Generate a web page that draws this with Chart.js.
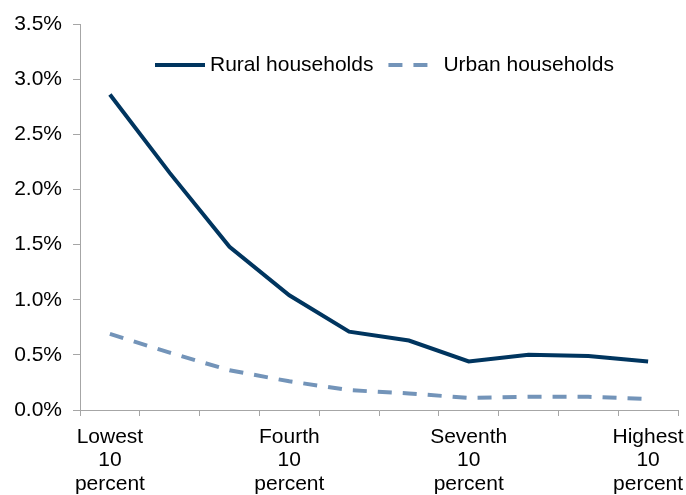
<!DOCTYPE html>
<html>
<head>
<meta charset="utf-8">
<script src="https://cdn.jsdelivr.net/npm/chart.js@4"></script>
<style>
  html, body { margin: 0; padding: 0; background: #fff; }
  #wrap { width: 686px; height: 495px; }
</style>
</head>
<body>
<div id="wrap"><canvas id="myChart" width="686" height="495"></canvas></div>
<script>
// income deciles along the x axis
const deciles = ["Lowest", "Second", "Third", "Fourth", "Fifth", "Sixth", "Seventh", "Eighth", "Ninth", "Highest"];
// only these deciles get a label under the axis
const labelledDeciles = ["Lowest", "Fourth", "Seventh", "Highest"];

// share in percent
const ruralValues = [2.86, 2.15, 1.48, 1.04, 0.71, 0.63, 0.44, 0.50, 0.49, 0.44];
const urbanValues = [0.69, 0.52, 0.36, 0.26, 0.18, 0.15, 0.11, 0.12, 0.12, 0.10];

const yTicks = [0, 0.5, 1.0, 1.5, 2.0, 2.5, 3.0, 3.5];

const axisGray = "#a6a6a6";
const fontFamily = "'Liberation Sans', Arial, sans-serif";

// legend drawn inside the plot area, near the top
const insideLegend = {
  id: "insideLegend",
  afterDraw(chart) {
    const ctx = chart.ctx;
    const y = 65;
    let x = 155;
    ctx.save();
    ctx.font = "21px " + fontFamily;
    ctx.textBaseline = "middle";
    ctx.textAlign = "left";
    chart.data.datasets.forEach((ds) => {
      ctx.strokeStyle = ds.borderColor;
      ctx.lineWidth = ds.borderWidth;
      ctx.setLineDash(ds.borderDash || []);
      ctx.beginPath();
      ctx.moveTo(x, y);
      ctx.lineTo(x + 50, y);
      ctx.stroke();
      ctx.setLineDash([]);
      ctx.fillStyle = "#000";
      ctx.fillText(ds.label, x + 55, y);
      x += 55 + ctx.measureText(ds.label).width + 15;
    });
    ctx.restore();
  },
};

const config = {
  type: "line",
  data: {
    labels: deciles,
    datasets: [
      {
        label: "Rural households",
        data: ruralValues,
        borderColor: "#00355f",
        borderWidth: 4,
        pointRadius: 0,
        tension: 0,
      },
      {
        label: "Urban households",
        data: urbanValues,
        borderColor: "#7394b9",
        borderWidth: 4,
        borderDash: [14, 11],
        pointRadius: 0,
        tension: 0,
      },
    ],
  },
  options: {
    responsive: false,
    animation: false,
    devicePixelRatio: 1,
    layout: { padding: { top: 24, right: 8, left: 0, bottom: 0 } },
    plugins: {
      legend: { display: false },
      tooltip: { enabled: false },
    },
    scales: {
      x: {
        offset: true,
        afterFit: (scale) => {
          scale.height = 85;
          // let the last label hang past the axis end, like the original
          scale.paddingLeft = 0;
          scale.paddingRight = 0;
        },
        grid: {
          display: true,
          drawOnChartArea: false,
          offset: true,
          tickLength: 6,
          color: axisGray,
        },
        border: { color: axisGray, width: 1 },
        ticks: {
          autoSkip: false,
          maxRotation: 0,
          padding: 9,
          color: "#000",
          font: { family: fontFamily, size: 21, lineHeight: 1.12 },
          callback: (val, i) => {
            const name = deciles[i];
            return labelledDeciles.includes(name) ? [name, "10", "percent"] : "";
          },
        },
      },
      y: {
        min: 0,
        max: 3.5,
        afterBuildTicks: (scale) => {
          scale.ticks = yTicks.map((v) => ({ value: v }));
        },
        afterFit: (scale) => {
          scale.width = 80;
        },
        grid: {
          display: true,
          drawOnChartArea: false,
          tickLength: 7,
          color: axisGray,
        },
        border: { color: axisGray, width: 1 },
        ticks: {
          padding: 11,
          color: "#000",
          font: { family: fontFamily, size: 21 },
          callback: (v) => v.toFixed(1) + "%",
        },
      },
    },
  },
  plugins: [insideLegend],
};

const myChart = new Chart(document.getElementById("myChart"), config);
</script>
</body>
</html>
